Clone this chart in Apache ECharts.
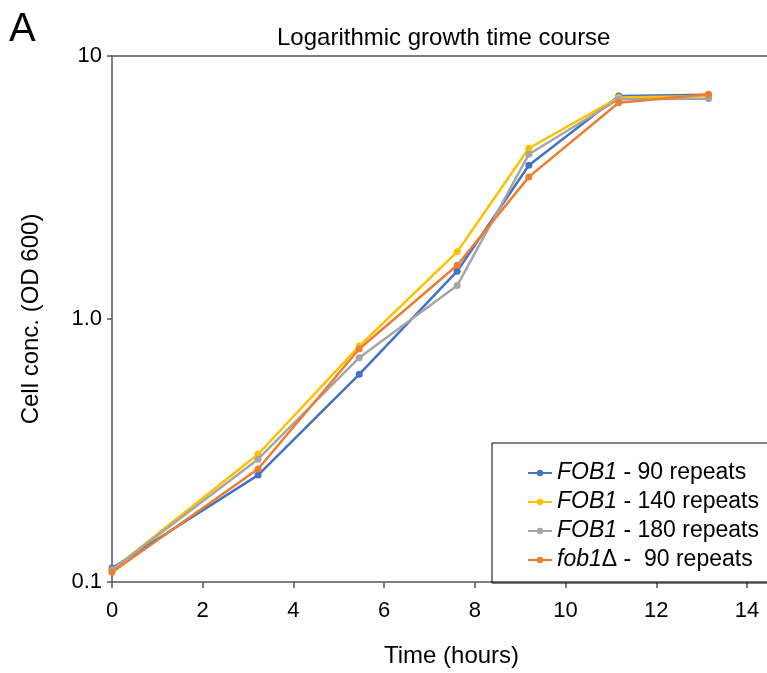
<!DOCTYPE html>
<html>
<head>
<meta charset="utf-8">
<script src="https://cdn.jsdelivr.net/npm/echarts@6/dist/echarts.min.js"></script>
<style>
  html, body { margin: 0; padding: 0; background: #fff; }
  #growthChart { width: 767px; height: 673px; }
</style>
</head>
<body>
<div id="growthChart"></div>
<script>
// sampling times (hours)
const timeHours = [0, 3.22, 5.45, 7.61, 9.19, 11.17, 13.15]
// OD600 per strain
const fob1_90 = [0.113, 0.255, 0.616, 1.52, 3.84, 7.04, 7.13]
const fob1_140 = [0.111, 0.306, 0.789, 1.80, 4.46, 6.95, 7.04]
const fob1_180 = [0.111, 0.293, 0.713, 1.34, 4.23, 6.85, 6.88]
const fob1d_90 = [0.109, 0.269, 0.769, 1.60, 3.47, 6.64, 7.15]

const genes = ['FOB1', 'FOB1', 'FOB1', 'fob1']
const labelTails = [' - 90 repeats', ' - 140 repeats', ' - 180 repeats', 'Δ -  90 repeats']
const colors = ['#4472C4', '#FFC000', '#A5A5A5', '#ED7D31']
const xTicks = [0, 2, 4, 6, 8, 10, 12, 14]

const seriesValues = [fob1_90, fob1_140, fob1_180, fob1d_90]
const names = genes.map((g, i) => g + labelTails[i])

const font = '"Liberation Sans", Arial, Helvetica, sans-serif'

const chart = echarts.init(document.getElementById('growthChart'))

const option = {
  animation: false,
  textStyle: { fontFamily: font },
  title: [
    {
      text: 'A',
      left: 9,
      top: 10,
      padding: 0,
      textStyle: { fontSize: 40, fontWeight: 'normal', color: '#000', fontFamily: font }
    },
    {
      text: 'Logarithmic growth time course',
      left: 277,
      top: 26,
      padding: 0,
      textStyle: { fontSize: 24, fontWeight: 'normal', color: '#000', fontFamily: font }
    }
  ],
  legend: {
    left: 492,
    top: 443,
    orient: 'vertical',
    padding: [18, 40, 11, 35],
    borderColor: '#000',
    borderWidth: 1,
    itemWidth: 24,
    itemHeight: 8,
    itemGap: 5,
    data: names,
    formatter: (name) => {
      const i = names.indexOf(name)
      return '{i|' + genes[i] + '}' + labelTails[i]
    },
    textStyle: {
      fontSize: 23,
      color: '#000',
      fontFamily: font,
      lineHeight: 24,
      rich: {
        i: { fontSize: 23, fontStyle: 'italic', color: '#000', fontFamily: font, lineHeight: 24 }
      }
    }
  },
  grid: { left: 112, top: 56, right: 0, bottom: 91 },
  xAxis: [
    {
      type: 'value',
      min: 0,
      max: 14.44,
      interval: 2,
      name: 'Time (hours)',
      nameLocation: 'middle',
      nameGap: 62,
      nameTextStyle: { fontSize: 24, color: '#000', padding: [0, 0, 0, 24] },
      axisLine: { lineStyle: { color: '#555', width: 1.5 } },
      axisTick: { show: true, length: 6, customValues: xTicks, lineStyle: { color: '#555', width: 1.5 } },
      axisLabel: { customValues: xTicks, fontSize: 22, color: '#000', margin: 18 },
      splitLine: { show: false }
    },
    {
      type: 'value',
      position: 'top',
      min: 0,
      max: 14.44,
      axisLine: { show: true, onZero: false, lineStyle: { color: '#555', width: 1.5 } },
      axisTick: { show: false },
      axisLabel: { show: false },
      splitLine: { show: false }
    }
  ],
  yAxis: {
    type: 'log',
    logBase: 10,
    min: 0.1,
    max: 10,
    name: 'Cell conc. (OD 600)',
    nameLocation: 'middle',
    nameGap: 69,
    nameTextStyle: { fontSize: 24, color: '#000' },
    axisLine: { show: true, lineStyle: { color: '#555', width: 1.5 } },
    axisTick: { show: true, length: 5, lineStyle: { color: '#555', width: 1.5 } },
    axisLabel: {
      fontSize: 22,
      color: '#000',
      margin: 10,
      formatter: (v) => (v === 1 ? '1.0' : String(v))
    },
    splitLine: { show: false }
  },
  series: names.map((name, i) => ({
    name: name,
    type: 'line',
    data: timeHours.map((t, j) => [t, seriesValues[i][j]]),
    symbol: 'circle',
    symbolSize: 7,
    lineStyle: { width: 2.5, color: colors[i] },
    itemStyle: { color: colors[i] },
    z: 2 + i
  }))
}

chart.setOption(option)
window.addEventListener('resize', function () {
  chart.resize()
})
</script>
</body>
</html>
